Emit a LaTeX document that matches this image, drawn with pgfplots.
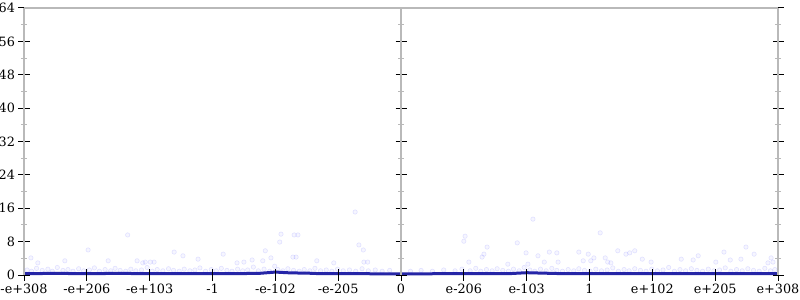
\documentclass[border=0pt]{standalone}
\usepackage{fontspec}
\setmainfont{DejaVu Serif}
\usepackage{pgfplots}
\pgfplotsset{compat=1.18}
\definecolor{lineblue}{RGB}{38,38,165}
\definecolor{axgray}{RGB}{185,185,185}
\begin{document}
\begin{tikzpicture}
\pgfplotsset{
  common/.style={
    scale only axis, width=754bp, height=267bp,
    xmin=-6, xmax=6, ymin=0, ymax=64,
    tick align=center,
    major tick length=11bp, minor tick length=6bp,
    major tick style={black, line width=1bp},
    minor tick style={axgray, line width=1bp},
    ticklabel style={font=\fontsize{12.8bp}{14bp}\selectfont},
    /pgf/number format/assume math mode=true,
  }
}
\begin{axis}[common,
  axis on top,
  separate axis lines,
  every outer x axis line/.append style={draw=none},
  every outer y axis line/.append style={draw=axgray, line width=2bp},
  xtick={-6,-5,...,6},
  xticklabels={-e+308,-e+206,-e+103,-1,-e-102,-e-205,0,e-206,e-103,1,e+102,e+205,e+308},
  xtick pos=lower,
  ytick={0,8,...,64},
  minor y tick num=1,
  ytick pos=both,
  yticklabel pos=lower,
  clip=false,
]
\coordinate (sw) at (rel axis cs:0,0);
\coordinate (ne) at (rel axis cs:1,1);
% faint scatter
\addplot[only marks, mark=*, mark size=2.2bp,
  mark options={draw=blue, fill=blue, line width=0.6bp, draw opacity=0.10, fill opacity=0.035}]
coordinates {
(-4.35,9.6) (-4.98,6.0) (-4.66,3.4) (-5.35,3.4) (-3.61,5.5) (-3.47,4.6) (-3.23,3.8)
(-5.89,4.1) (-4.20,3.4) (-4.07,3.1) (-3.99,3.1) (-5.78,2.9) (-0.73,15.1) (-1.91,9.8)
(-1.93,7.9) (-1.70,9.6) (-1.64,9.6) (-2.16,5.8) (-2.83,5.0) (-0.67,7.2) (-0.60,6.0)
(-1.72,4.3) (-1.67,4.3) (-1.34,3.4) (-2.07,4.1) (-2.20,3.4) (-2.37,3.6) (-2.50,3.1)
(-2.61,2.9) (-1.07,2.9) (-0.59,3.1) (-0.53,3.1) (-3.93,3.1) (-4.11,2.9)
(2.10,13.4) (3.17,10.1) (1.02,9.3) (1.00,8.1) (1.85,7.7) (1.37,6.7) (1.32,5.0)
(1.29,4.3) (1.99,5.3) (2.18,4.6) (2.36,5.5) (2.48,5.3) (2.83,5.5) (2.98,5.0)
(3.07,4.1) (3.02,3.4) (3.25,4.1) (1.08,3.1) (2.50,3.1) (2.28,3.1) (2.90,3.4)
(2.02,2.6) (1.70,2.6) (3.45,5.8) (3.58,5.0) (3.64,5.3) (3.72,5.8) (3.84,3.8)
(4.46,3.8) (4.73,4.6) (4.65,3.6) (5.14,5.5) (5.49,6.7) (5.62,5.0) (5.24,3.6)
(5.41,3.8) (5.89,4.1) (5.92,3.1) (5.84,2.9) (3.34,2.9) (3.29,3.1) (3.98,3.1) (5.01,3.1)
(-5.95,1.2) (-5.88,0.9) (-5.80,1.6) (-5.71,1.1) (-5.62,1.4) (-5.55,0.9) (-5.47,1.8)
(-5.38,1.1) (-5.30,1.3) (-5.22,0.9) (-5.13,1.5) (-5.05,1.0) (-4.96,1.2) (-4.88,1.7)
(-4.80,0.9) (-4.71,1.3) (-4.62,1.0) (-4.55,1.6) (-4.47,1.1) (-4.38,0.9) (-4.30,1.4)
(-4.22,1.0) (-4.13,1.2) (-4.04,1.8) (-3.96,0.9) (-3.88,1.3) (-3.79,1.0) (-3.70,1.5)
(-3.62,1.1) (-3.53,0.9) (-3.45,1.4) (-3.36,1.0) (-3.28,1.2) (-3.20,1.7) (-3.11,0.9)
(-3.02,1.3) (-2.94,1.0) (-2.86,1.6) (-2.77,1.1) (-2.69,0.9) (-2.60,1.4) (-2.52,1.0)
(-2.44,1.2) (-2.35,1.9) (-2.27,1.0) (-2.18,1.4) (-2.09,0.9) (-2.01,2.1) (-1.96,1.3)
(-1.88,1.0) (-1.80,1.5) (-1.71,1.1) (-1.62,0.9) (-1.54,1.3) (-1.45,1.0) (-1.37,1.6)
(-1.28,1.0) (-1.19,1.2) (-1.10,0.9) (-1.01,1.4) (-0.92,1.0) (-0.82,1.2) (-0.72,0.9)
(-0.62,1.5) (-0.52,1.0) (-0.41,1.2) (-0.30,0.9) (-0.18,1.1)
(0.15,0.9) (0.32,1.1) (0.50,0.9) (0.68,1.2) (0.86,1.0) (0.97,1.4) (1.10,1.0)
(1.19,1.6) (1.27,0.9) (1.36,1.3) (1.45,1.0) (1.53,1.5) (1.62,1.1) (1.71,0.9)
(1.79,1.4) (1.88,1.0) (1.96,1.8) (2.05,1.2) (2.13,0.9) (2.22,1.4) (2.31,1.0)
(2.40,1.6) (2.48,1.1) (2.57,0.9) (2.66,1.3) (2.75,1.0) (2.83,1.5) (2.92,1.1)
(3.01,0.9) (3.10,1.4) (3.19,1.0) (3.28,1.2) (3.37,1.7) (3.46,0.9) (3.55,1.3)
(3.63,1.0) (3.72,1.5) (3.81,1.1) (3.90,0.9) (3.99,1.4) (4.08,1.0) (4.17,1.2)
(4.26,1.8) (4.35,0.9) (4.44,1.3) (4.53,1.0) (4.62,1.5) (4.71,1.1) (4.80,0.9)
(4.89,1.4) (4.98,1.0) (5.07,1.2) (5.16,1.7) (5.25,0.9) (5.34,1.3) (5.43,1.0)
(5.52,1.5) (5.61,1.1) (5.70,0.9) (5.79,1.6) (5.88,1.0) (5.95,1.3)
};
% main line
\addplot[lineblue, line width=3bp, line join=round] coordinates {
(-6,0.35) (-5.75,0.35) (-5.5,0.4) (-5.25,0.35) (-5,0.3) (-4.75,0.35) (-4.5,0.4)
(-4.25,0.35) (-4,0.3) (-3.75,0.35) (-3.5,0.3) (-3.25,0.35) (-3,0.3) (-2.75,0.35)
(-2.5,0.35) (-2.25,0.4) (-2,0.7) (-1.75,0.5) (-1.5,0.45) (-1.25,0.3) (-1,0.3)
(-0.75,0.35) (-0.5,0.3) (-0.25,0.25) (0,0.25) (0.25,0.25) (0.5,0.3) (0.75,0.3)
(1,0.3) (1.25,0.35) (1.5,0.3) (1.75,0.35) (2,0.55) (2.25,0.45) (2.5,0.35)
(2.75,0.35) (3,0.3) (3.25,0.35) (3.5,0.35) (3.75,0.3) (4,0.35) (4.25,0.3)
(4.5,0.35) (4.75,0.3) (5,0.35) (5.25,0.3) (5.5,0.35) (5.75,0.35) (6,0.35)
};
\end{axis}
% overlay: top frame line and middle axis at x=0
\begin{axis}[common,
  axis x line=top,
  axis y line=middle,
  axis line style={-, draw=axgray, line width=2bp},
  xtick=\empty,
  ytick={0,8,...,64},
  minor y tick num=1,
  yticklabels={},
]
\end{axis}
\pgfresetboundingbox
\path[use as bounding box] ([shift={(-24bp,-25bp)}]sw) rectangle ([shift={(22bp,8bp)}]ne);
\end{tikzpicture}
\end{document}
